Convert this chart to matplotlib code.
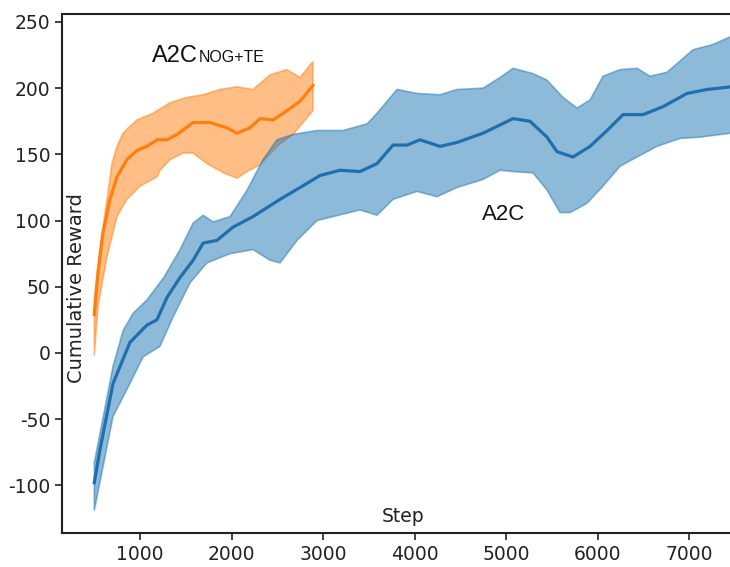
#!/usr/bin/env python3
"""Cumulative reward per training step for A2C and A2C with NOG+TE."""
import matplotlib
matplotlib.use("Agg")
import matplotlib.pyplot as plt

plt.rcParams["axes.unicode_minus"] = False

# A2C (blue): mean curve with upper / lower band
a2c_steps = [500, 562, 705, 890, 1075, 1185, 1295, 1437, 1580, 1690, 1840, 2015,
             2235, 2530, 2750, 2967, 3186, 3404, 3590, 3765, 3918, 4060, 4279,
             4465, 4749, 5077, 5262, 5448, 5557, 5732, 5918, 6104, 6279, 6497,
             6716, 6978, 7197, 7460]
a2c_mean = [-98, -73, -23, 8, 21, 25, 42, 57, 70, 83, 85, 95,
            103, 116, 125, 134, 138, 137, 143, 157, 157, 161, 156,
            159, 166, 177, 175, 163, 152, 148, 156, 168, 180, 180,
            186, 196, 199, 201]

a2c_up_steps = [500, 705, 816, 925, 1075, 1260, 1437, 1580, 1690, 1800, 1984,
                2170, 2344, 2497, 2672, 2934, 3219, 3481, 3590, 3809, 4027,
                4279, 4465, 4749, 4934, 5077, 5295, 5448, 5623, 5776, 5918,
                6060, 6246, 6432, 6574, 6760, 7044, 7263, 7460]
a2c_upper = [-83, -10, 17, 30, 40, 57, 78, 98, 104, 99, 103,
             123, 146, 161, 165, 168, 168, 173, 181, 199, 196,
             195, 199, 200, 208, 215, 211, 206, 193, 185, 191,
             209, 214, 215, 209, 212, 229, 233, 239]

a2c_lo_steps = [500, 705, 890, 1033, 1218, 1360, 1546, 1731, 1984, 2235, 2421,
                2530, 2716, 2934, 3110, 3404, 3590, 3765, 4027, 4246, 4465,
                4749, 4934, 5077, 5295, 5448, 5590, 5700, 5885, 6060, 6246,
                6432, 6650, 6901, 7120, 7460]
a2c_lower = [-119, -48, -23, -3, 5, 27, 53, 68, 75, 78, 70,
             68, 85, 100, 103, 108, 104, 116, 122, 118, 125,
             131, 138, 137, 136, 123, 106, 106, 113, 126, 141,
             148, 156, 162, 163, 166]

# A2C NOG+TE (orange)
nog_steps = [500, 540, 596, 672, 748, 857, 967, 1075, 1186, 1295, 1404, 1580,
             1765, 1950, 2060, 2202, 2311, 2457, 2606, 2748, 2890]
nog_mean = [29, 60, 91, 116, 133, 146, 153, 156, 161, 161, 165, 174,
            174, 170, 166, 170, 177, 176, 183, 190, 202]

nog_up_steps = [500, 563, 640, 694, 748, 814, 967, 1142, 1328, 1513, 1690,
                1875, 2060, 2235, 2421, 2606, 2748, 2890]
nog_upper = [40, 80, 116, 143, 156, 166, 176, 181, 189, 193, 195,
             199, 201, 199, 210, 214, 208, 220]

nog_lo_steps = [500, 540, 640, 748, 857, 1000, 1186, 1219, 1328, 1470, 1580,
                1731, 1915, 2060, 2169, 2311, 2497, 2672, 2890]
nog_lower = [-2, 35, 73, 103, 116, 126, 133, 138, 146, 151, 151,
             143, 136, 132, 137, 142, 156, 165, 183]

x_ticks = [1000, 2000, 3000, 4000, 5000, 6000, 7000]
y_ticks = [-100, -50, 0, 50, 100, 150, 200, 250]


def band(ax, up_x, up_y, lo_x, lo_y, color):
    # closed polygon: upper edge left->right, lower edge right->left
    xs = list(up_x) + list(lo_x)[::-1]
    ys = list(up_y) + list(lo_y)[::-1]
    ax.fill(xs, ys, facecolor=color, edgecolor=color, alpha=0.5, linewidth=1.2)


fig = plt.figure(figsize=(7.3, 5.67), dpi=100)
ax = fig.add_axes([62 / 730, 34 / 567, 668 / 730, 519 / 567])

band(ax, nog_up_steps, nog_upper, nog_lo_steps, nog_lower, "#ff7f0e")
ax.plot(nog_steps, nog_mean, color="#ff7f0e", linewidth=2.3)

band(ax, a2c_up_steps, a2c_upper, a2c_lo_steps, a2c_lower, "#1f77b4")
ax.plot(a2c_steps, a2c_mean, color="#1f6fae", linewidth=2.3)

ax.set_xlim(147, 7448)
ax.set_ylim(-136, 256)
ax.set_xticks(x_ticks)
ax.set_yticks(y_ticks)
ax.tick_params(labelsize=13.5, length=5, width=1.2, color="#222222",
               labelcolor="#222222")
ax.spines["right"].set_visible(False)
for s in ["left", "bottom", "top"]:
    ax.spines[s].set_linewidth(1.5)
    ax.spines[s].set_color("#222222")

# axis titles sit inside the plot area
ax.text(3874, -127.5, "Step", fontsize=13.5, ha="center", va="baseline", color="#222222")
ax.text(303, 49, "Cumulative Reward", fontsize=14, rotation=90,
        ha="center", va="center", color="#222222")

# curve labels
ax.text(4738, 100.5, "A2C", fontsize=16, family="Liberation Sans",
        ha="left", va="baseline", color="#111111")
ax.text(1131, 220, "A2C", fontsize=17, family="Liberation Sans",
        ha="left", va="baseline", color="#111111")
ax.text(1640, 220, "NOG+TE", fontsize=11.5, family="Liberation Sans",
        ha="left", va="baseline", color="#111111")

fig.savefig("out.png", dpi=100)
